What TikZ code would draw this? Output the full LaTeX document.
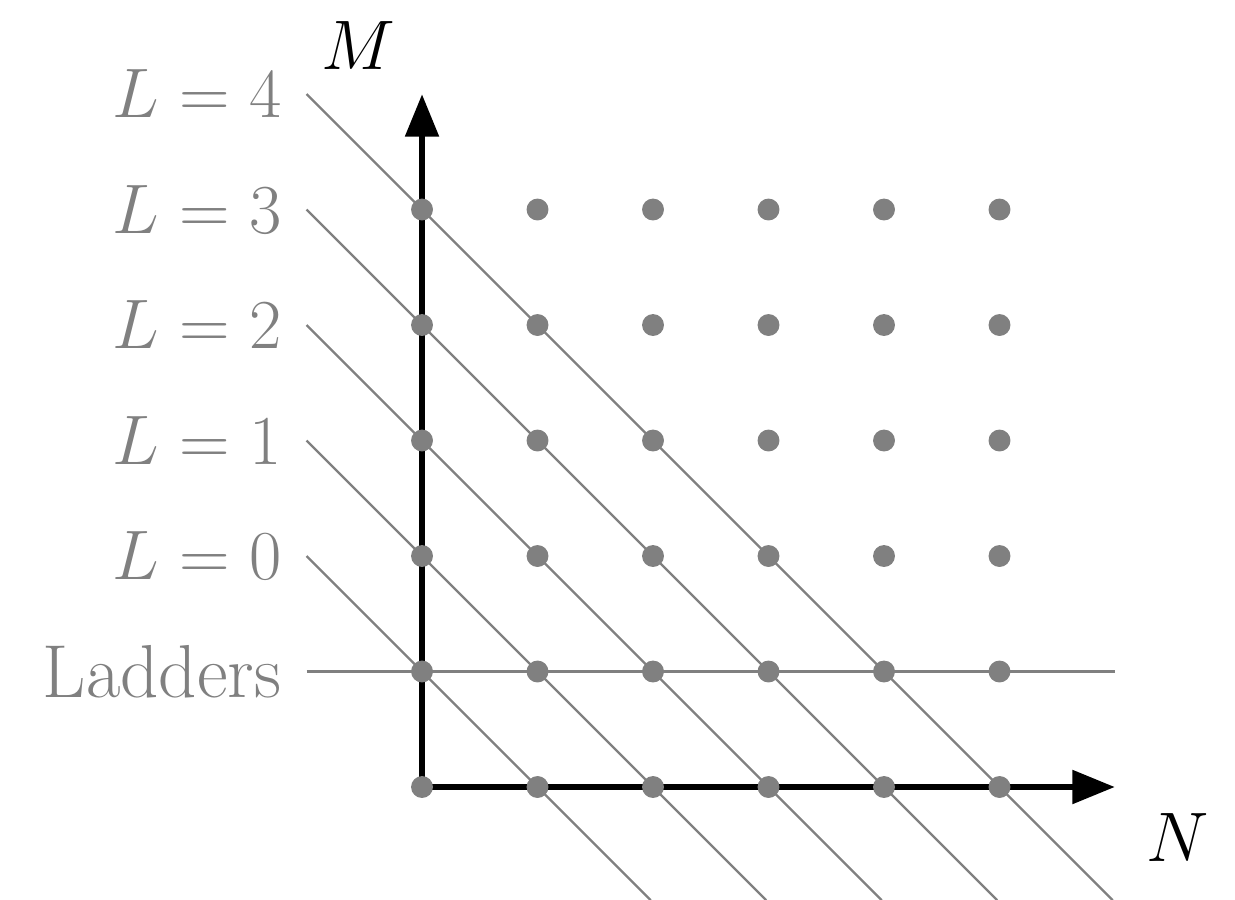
\documentclass[tikz,border=0pt]{standalone}
\usepackage{tikz}
\usetikzlibrary{arrows.meta, calc}
\definecolor{ldgray}{RGB}{128, 128, 128}

\begin{document}
\begin{tikzpicture}[
    lbl/.style={left, text=ldgray, inner sep=6pt, font=\fontsize{18.5}{22}\selectfont},
    axlbl/.style={font=\fontsize{18.5}{22}\selectfont},
    guide/.style={ldgray, line width=0.6pt},
    axis/.style={line width=1.7pt, -{Triangle[length=10.5pt, width=8pt]}}
]

% marco de la figura
\useasboundingbox (-3.654, -0.978) rectangle (7.039, 6.814);

% Rectas diagonales L = 0..4
\foreach \k in {0,1,2,3,4} {
    \node[lbl] (lbl\k) at (-1, 2+\k) {$L=\k$};
    \draw[guide] (lbl\k.east) -- ++(\k+2.98, -\k-2.98);
}

% Recta horizontal
\node[lbl] (ladders) at (-1, 1) {Ladders};
\draw[guide] (ladders.east) -- (6, 1);

% Ejes
\coordinate (origin) at (0, 0);
\coordinate (nend) at (6, 0);
\coordinate (mend) at (0, 6);
\draw[axis] (origin) -- (nend);
\draw[axis] (origin) -- (mend);
\node[axlbl] (nlabel) at (6.54, -0.44) {$N$};
\node[axlbl] (mlabel) at (-0.55, 6.42) {$M$};

% Puntos
\foreach \x in {0,1,2,3,4,5} {
    \foreach \y in {0,1,2,3,4,5} {
        \fill[ldgray] (\x, \y) circle (2.7pt);
    }
}

\end{tikzpicture}
\end{document}
